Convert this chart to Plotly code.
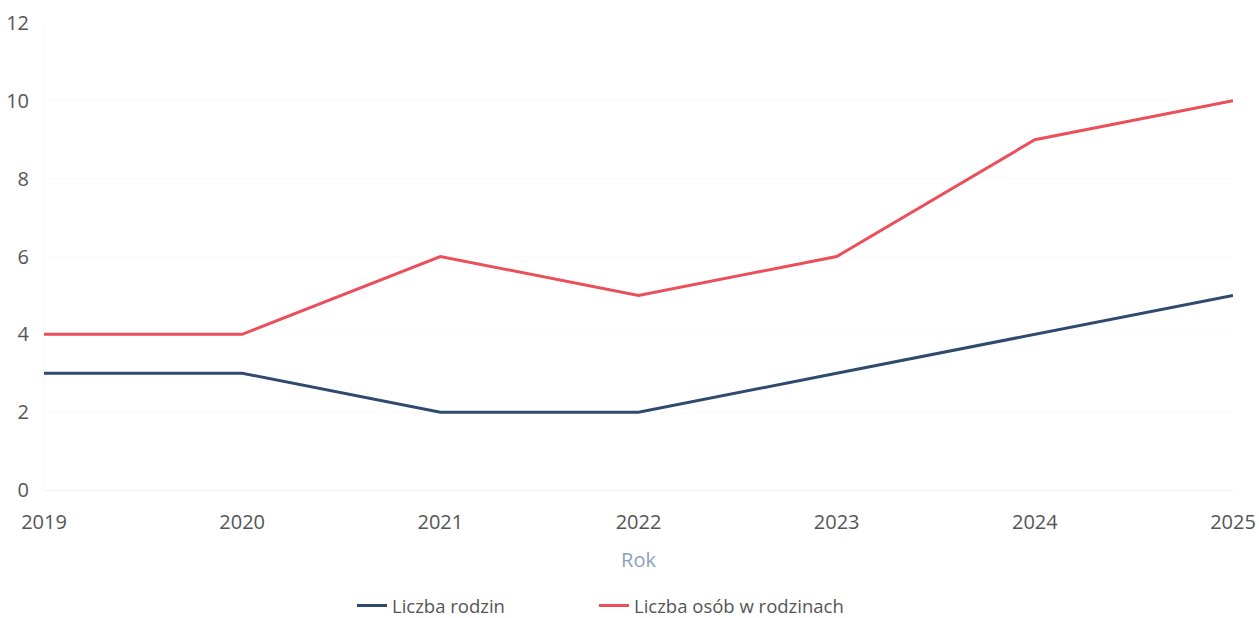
import plotly.graph_objects as go

years = [2019, 2020, 2021, 2022, 2023, 2024, 2025]
liczba_rodzin = [3, 3, 2, 2, 3, 4, 5]
liczba_osob = [4, 4, 6, 5, 6, 9, 10]
y_ticks = [0, 2, 4, 6, 8, 10, 12]

FONT = "Open Sans"
fig = go.Figure()
fig.add_trace(go.Scatter(x=years, y=liczba_rodzin, mode="lines", name="Liczba rodzin",
                         line=dict(color="#2f4a6d", width=3), legend="legend"))
fig.add_trace(go.Scatter(x=years, y=liczba_osob, mode="lines", name="Liczba osób w rodzinach",
                         line=dict(color="#ea4f5a", width=3), legend="legend2"))

leg_common = dict(orientation="h", xanchor="left", xref="container",
                  y=1 - 606 / 618, yref="container", yanchor="middle",
                  font=dict(size=18.5, color="#555555"), itemwidth=30)

fig.update_layout(
    width=1259, height=618,
    margin=dict(l=44, r=26, t=23, b=128, autoexpand=False),
    paper_bgcolor="white", plot_bgcolor="white",
    font=dict(family=FONT, size=20, color="#555555"),
    showlegend=True,
    legend=dict(x=352 / 1259, **leg_common),
    legend2=dict(x=594 / 1259, **leg_common),
    xaxis=dict(range=[2019, 2025], tickvals=years, ticktext=[str(y) for y in years],
               showgrid=False, zeroline=False, showline=False,
               ticks="", ticklabelstandoff=18,
               title=dict(text="Rok", font=dict(size=20, color="#8c9fbb"), standoff=18)),
    yaxis=dict(range=[0, 12], tickvals=y_ticks, showgrid=True, gridcolor="#fafafa",
               zeroline=True, zerolinecolor="#f2f2f2", zerolinewidth=1,
               showline=True, linecolor="#f7f7f7", ticks="", ticklabelstandoff=10),
)

fig.write_html("out.html", config={"displayModeBar": False},
               post_script="document.body.style.margin='0';")
